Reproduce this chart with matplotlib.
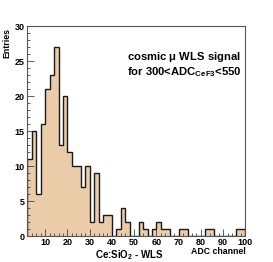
import numpy as np
import matplotlib
matplotlib.use("Agg")
import matplotlib.pyplot as plt
from matplotlib.ticker import MultipleLocator

plt.rcParams['font.family'] = ['Liberation Sans', 'DejaVu Sans']
plt.rcParams['font.weight'] = 'bold'
plt.rcParams['mathtext.fontset'] = 'custom'
plt.rcParams['mathtext.rm'] = 'Liberation Sans:bold'
plt.rcParams['mathtext.it'] = 'Liberation Sans'
plt.rcParams['mathtext.bf'] = 'Liberation Sans:bold'

# ---- data ----
bin_edges = np.arange(2, 101, 2)  # 2..100, bin width 2
counts = [11, 15, 6, 16, 21, 23, 27, 13, 20, 12,
          10, 10, 7, 10, 2, 9, 2, 3, 3, 0,
          1, 4, 2, 0, 0, 2, 1, 0, 1, 2,
          1, 1, 0, 0, 1, 1, 0, 0, 0, 0,
          1, 1, 0, 0, 0, 0, 0, 1, 1]
x_ticks = [10, 20, 30, 40, 50, 60, 70, 80, 90, 100]
y_ticks = [0, 5, 10, 15, 20, 25, 30]

fig = plt.figure(figsize=(2.73, 2.62), dpi=100)
ax = fig.add_axes([0.1007, 0.0992, 0.7978, 0.8015])

ax.stairs(counts, bin_edges, fill=True, color='#ebcca8', zorder=1)
ax.stairs(counts, bin_edges, fill=False, color='#1a1a1a', linewidth=1.0, zorder=2)

ax.set_xlim(2, 100)
ax.set_ylim(0, 30)
ax.set_xticks(x_ticks)
ax.set_yticks(y_ticks)
ax.xaxis.set_minor_locator(MultipleLocator(2))
ax.yaxis.set_minor_locator(MultipleLocator(1))
ax.tick_params(which='both', direction='in', top=False, right=False,
               labelsize=6.5, color='#444444', width=0.6, pad=2)
ax.tick_params(axis='x', which='both', pad=1.2)
ax.tick_params(which='major', length=5)
ax.tick_params(which='minor', length=2.5)
for lab in ax.get_xticklabels() + ax.get_yticklabels():
    lab.set_fontweight('bold')
for s in ax.spines.values():
    s.set_color('#555555')
    s.set_linewidth(0.8)

fig.text(0.026, 0.893, 'Entries', rotation=90, ha='center', va='top',
         fontsize=6.3, fontweight='bold')
fig.text(0.8985, 0.040, 'ADC channel', ha='right', va='center',
         fontsize=6.3, fontweight='bold')
fig.text(0.474, 0.025, r'Ce:SiO$_{2}$ - WLS', ha='center', va='center',
         fontsize=7, fontweight='bold')
fig.text(0.465, 0.782, r'cosmic $\mu$ WLS signal', ha='left', va='center',
         fontsize=8.1, fontweight='bold')
fig.text(0.465, 0.726, r'for 300<ADC$_{\mathrm{CeF3}}$<550', ha='left', va='center',
         fontsize=8.1, fontweight='bold')

fig.savefig('out.png', dpi=100)
